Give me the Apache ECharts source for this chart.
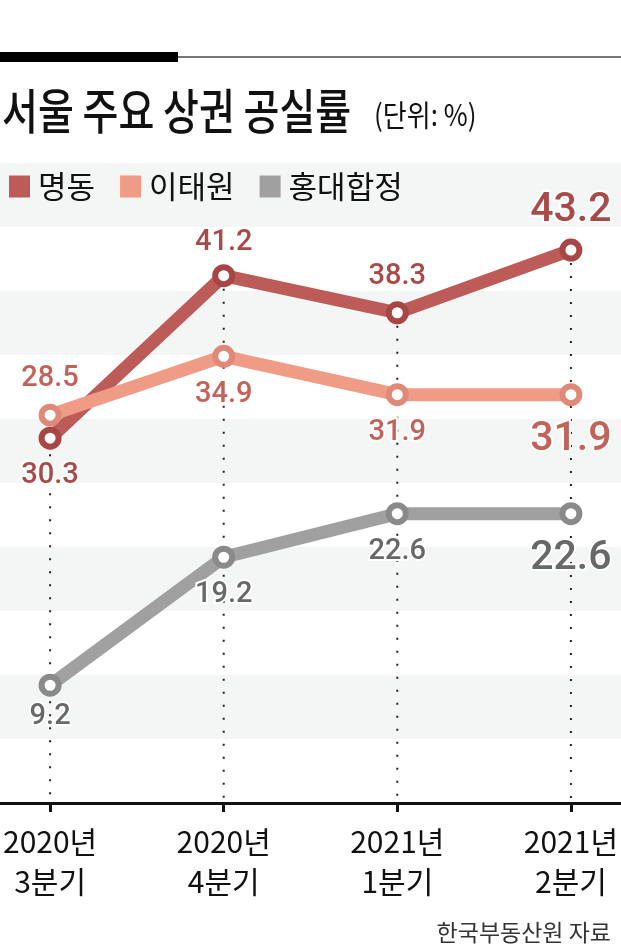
<!DOCTYPE html>
<html>
<head>
<meta charset="utf-8">
<script src="https://cdn.jsdelivr.net/npm/echarts@6/dist/echarts.min.js"></script>
<style>
  html, body { margin: 0; padding: 0; background: #fff; }
  #chart { width: 621px; height: 952px; }
</style>
</head>
<body>
<div id="chart"></div>
<script>
// 분기
const quarters = ['2020년\n3분기', '2020년\n4분기', '2021년\n1분기', '2021년\n2분기'];

// plotted values (as drawn in the picture: first 명동/이태원 points sit swapped vs. their labels)
const myeongdong = [28.5, 41.2, 38.3, 43.2];
const itaewon = [30.3, 34.9, 31.9, 31.9];
const hongdae = [9.2, 19.2, 22.6, 22.6];

// printed labels
const myeongdongLabels = ['30.3', '41.2', '38.3', '43.2'];
const itaewonLabels = ['28.5', '34.9', '31.9', '31.9'];
const hongdaeLabels = ['9.2', '19.2', '22.6', '22.6'];

// label placement
const myeongdongPos = ['bottom', 'top', 'top', 'top'];
const itaewonPos = ['top', 'bottom', 'bottom', 'bottom'];
const hongdaePos = ['bottom', 'bottom', 'bottom', 'bottom'];
// label gap from the marker
const myeongdongGap = [12, 7, 10, 7];
const itaewonGap = [10, 12, 12, 13];
const hongdaeGap = [6, 12, 12, 13];

const KR = '"Noto Sans CJK KR", sans-serif';
const NUM = 'Roboto, "Noto Sans CJK KR", sans-serif';

const makeData = (values, labels, pos, gaps) =>
  values.map((v, i) => {
    const label = {position: pos[i], formatter: labels[i], distance: gaps[i]};
    if (i === values.length - 1) {
      label.fontSize = 41;
      label.fontWeight = 500;
    }
    return {value: v, label};
  });

const makeSeries = (name, values, labels, pos, gaps, lineColor, ringColor, textColor) => ({
  name,
  type: 'line',
  xAxisIndex: 1,
  yAxisIndex: 1,
  z: 3,
  data: makeData(values, labels, pos, gaps),
  symbol: 'circle',
  symbolSize: 17,
  lineStyle: {width: 13, color: lineColor, cap: 'round', join: 'round'},
  itemStyle: {color: '#fff', borderColor: ringColor, borderWidth: 6},
  emphasis: {disabled: true},
  label: {
    show: true,
    fontSize: 29,
    fontWeight: 500,
    fontFamily: NUM,
    color: textColor,
    textBorderColor: '#fff',
    textBorderWidth: 4
  }
});

// dotted drop lines from the highest point down to the axis
const tops = quarters.map((q, i) => Math.max(myeongdong[i], itaewon[i], hongdae[i]));

const chart = echarts.init(document.getElementById('chart'), null, {renderer: 'canvas'});

const option = {
  animation: false,
  backgroundColor: '#fff',
  textStyle: {fontFamily: KR},
  title: {
    text: '한국부동산원 자료',
    right: 5,
    top: 916,
    textStyle: {fontSize: 23, fontWeight: 'normal', color: '#333', fontFamily: KR}
  },
  graphic: [
    {type: 'rect', shape: {x: 0, y: 52, width: 178, height: 10}, style: {fill: '#000'}},
    {type: 'line', shape: {x1: 178, y1: 57, x2: 621, y2: 57}, style: {stroke: '#777', lineWidth: 2}},
    {
      type: 'text',
      x: 2,
      y: 111,
      scaleY: 1.22,
      style: {
        text: '서울 주요 상권 공실률',
        fontSize: 39,
        fontWeight: 500,
        fontFamily: KR,
        fill: '#111',
        verticalAlign: 'middle'
      }
    },
    {
      type: 'text',
      x: 374,
      y: 115,
      scaleY: 1.15,
      style: {
        text: '(단위: %)',
        fontSize: 26,
        fontFamily: KR,
        fill: '#111',
        verticalAlign: 'middle'
      }
    }
  ],
  legend: {
    left: 4,
    top: 166,
    icon: 'rect',
    itemWidth: 21,
    itemHeight: 22,
    itemGap: 25,
    textStyle: {fontSize: 31, color: '#111', fontFamily: KR, padding: [0, 0, 0, 3]},
    data: [
      {name: '명동', itemStyle: {color: '#bd5b59', borderWidth: 0}},
      {name: '이태원', itemStyle: {color: '#f09b86', borderWidth: 0}},
      {name: '홍대합정', itemStyle: {color: '#a0a0a0', borderWidth: 0}}
    ]
  },
  grid: [
    // full-width background bands and axis line
    {left: 0, right: 0, top: 163, bottom: 149},
    // data area
    {left: 48, right: 50, top: 163, bottom: 149}
  ],
  xAxis: [
    {
      type: 'value',
      gridIndex: 0,
      min: 0,
      max: 1,
      axisLine: {show: true, onZero: false, lineStyle: {color: '#111', width: 3}},
      axisTick: {show: false},
      axisLabel: {show: false},
      splitLine: {show: false}
    },
    {
      type: 'category',
      gridIndex: 1,
      data: quarters,
      boundaryGap: false,
      axisLine: {show: false},
      axisTick: {show: true, length: 9, lineStyle: {color: '#111', width: 3}},
      axisLabel: {fontSize: 30, lineHeight: 40, color: '#111', margin: 19, fontFamily: KR},
      splitLine: {show: false}
    }
  ],
  yAxis: [
    {
      type: 'value',
      gridIndex: 0,
      min: 0,
      max: 50,
      interval: 5,
      axisLabel: {show: false},
      axisLine: {show: false},
      axisTick: {show: false},
      splitLine: {show: false},
      splitArea: {show: true, areaStyle: {color: ['#ffffff', '#f4f5f5']}}
    },
    {
      type: 'value',
      gridIndex: 1,
      min: 0,
      max: 50,
      interval: 5,
      axisLabel: {show: false},
      axisLine: {show: false},
      axisTick: {show: false},
      splitLine: {show: false}
    }
  ],
  series: [
    {
      name: 'drop',
      type: 'custom',
      xAxisIndex: 1,
      yAxisIndex: 1,
      z: 1,
      silent: true,
      data: tops.map((t, i) => [i, t]),
      renderItem: (params, api) => {
        const p1 = api.coord([api.value(0), api.value(1)]);
        const p2 = api.coord([api.value(0), 0]);
        return {
          type: 'line',
          shape: {x1: p1[0], y1: p1[1], x2: p2[0], y2: p2[1]},
          style: {stroke: '#222', lineWidth: 2, lineDash: [2, 11]}
        };
      }
    },
    makeSeries('명동', myeongdong, myeongdongLabels, myeongdongPos, myeongdongGap, '#bd5b59', '#a84646', '#a84a48'),
    makeSeries('이태원', itaewon, itaewonLabels, itaewonPos, itaewonGap, '#f09b86', '#df8a78', '#c4625a'),
    makeSeries('홍대합정', hongdae, hongdaeLabels, hongdaePos, hongdaeGap, '#a0a0a0', '#8a8a8a', '#686868')
  ]
};

chart.setOption(option);
</script>
</body>
</html>
